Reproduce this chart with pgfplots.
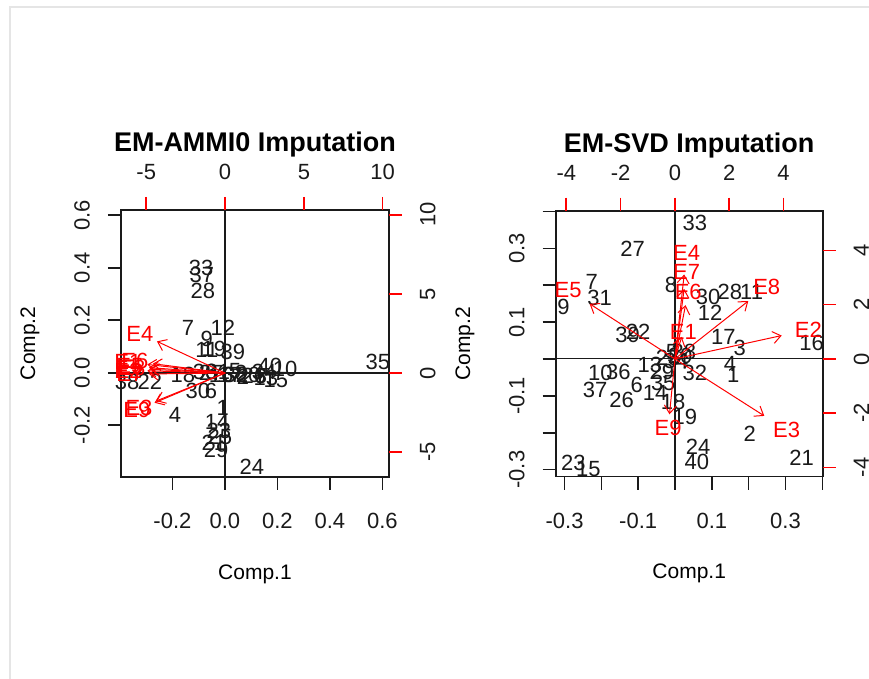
\documentclass[border=0pt]{standalone}
\usepackage{fontspec}
\setmainfont{Liberation Sans}
\usepackage{pgfplots}
\usepackage{pgfplotstable}
\pgfplotsset{compat=1.18}
\usetikzlibrary{arrows.meta}

% observations, EM-AMMI0 (Comp.1, Comp.2)
\pgfplotstableread{
lab x y
1 -0.008 -0.134
2 0.069 -0.016
3 0.137 -0.013
4 -0.190 -0.161
5 0.038 0.006
6 -0.053 -0.070
7 -0.141 0.170
8 0.061 -0.001
9 -0.069 0.128
10 0.229 0.014
11 -0.069 0.086
12 -0.008 0.170
13 0.156 -0.020
14 -0.030 -0.188
15 0.194 -0.028
16 -0.015 -0.009
17 0.019 -0.009
18 -0.160 -0.009
19 -0.042 0.090
20 0.088 -0.009
21 -0.042 -0.268
22 -0.286 -0.035
23 -0.023 -0.222
24 0.103 -0.359
25 -0.019 -0.245
26 0.110 -0.013
27 -0.053 -0.001
28 -0.084 0.311
29 -0.034 -0.294
30 -0.103 -0.070
31 -0.027 0.003
32 0.042 -0.009
33 -0.091 0.399
34 0.149 0.003
35 0.583 0.041
36 -0.076 0.003
37 -0.088 0.372
38 -0.373 -0.035
39 0.030 0.079
40 0.171 0.026
}\obsA

% variables, EM-AMMI0: label position and arrow tip
\pgfplotstableread{
name lx ly x0 y0 ax ay
E1 -6.16 0.67 0 0 -4.93 0.54
E2 -6.16 0.17 0 0 -4.93 0.14
E3 -5.46 -2.21 0 0 -4.37 -1.77
E4 -5.40 2.50 0 0 -4.32 2.00
E5 -6.04 0.42 0 0 -4.83 0.34
E6 -5.72 0.74 0 0 -4.58 0.59
E7 -6.04 -0.08 0 0 -4.83 -0.06
E8 -5.91 0.30 0 0 -4.73 0.24
E9 -5.59 -2.35 0 0 -4.47 -1.88
}\varA

% observations, EM-SVD
\pgfplotstableread{
lab x y
1 0.158 -0.043
2 0.203 -0.202
3 0.176 0.029
4 0.149 -0.012
5 -0.008 0.019
6 -0.104 -0.071
7 -0.226 0.210
8 -0.011 0.201
9 -0.303 0.142
10 -0.203 -0.039
11 0.208 0.183
12 0.095 0.124
13 -0.068 -0.016
14 -0.054 -0.093
15 -0.235 -0.297
16 0.371 0.043
17 0.131 0.060
18 -0.005 -0.116
19 0.027 -0.157
20 0.014 0.008
21 0.344 -0.269
22 -0.100 0.074
23 -0.276 -0.283
24 0.063 -0.238
25 -0.019 0.003
26 -0.145 -0.111
27 -0.115 0.300
28 0.149 0.183
29 -0.036 -0.034
30 0.090 0.169
31 -0.205 0.165
32 0.054 -0.039
33 0.054 0.368
34 0.003 -0.005
35 -0.032 -0.066
36 -0.154 -0.034
37 -0.217 -0.084
38 0.024 0.019
39 -0.129 0.065
40 0.059 -0.279
}\obsB

% variables, EM-SVD
\pgfplotstableread{
name lx ly x0 y0 ax ay
E1 0.31 1.01 0 0 0.25 0.81
E2 4.91 1.07 0 0 3.93 0.86
E3 4.11 -2.62 0 0 3.29 -2.10
E4 0.43 3.89 0 0 0.34 3.11
E5 -3.93 2.54 0 0 -3.14 2.03
E6 0.49 2.48 0 0 0.39 1.98
E7 0.43 3.22 0 0 0.34 2.58
E8 3.38 2.66 0 0 2.70 2.13
E9 -0.25 -2.55 0 0 -0.20 -2.04
}\varB

\definecolor{rred}{HTML}{FF0000}
\definecolor{ink}{HTML}{1A1A1A}

\pgfplotsset{
  bip/.style={
    scale only axis, anchor=south west, clip=false,
    tick align=outside, major tick length=6.5pt,
    minor tick num=0,
    every tick label/.append style={font=\fontsize{11}{12}\selectfont, text=ink},
    axis line style={line width=0.8pt, ink},
    every tick/.append style={line width=0.8pt},
  },
  prim/.style={
    bip, xtick pos=left, ytick pos=left,
    tick style={ink},
    xticklabel shift=8pt, yticklabel shift=5.5pt,
    yticklabel style={rotate=90, anchor=south},
    title style={font=\bfseries\fontsize{13.5}{15}\selectfont, at={(0.5,1)}, anchor=center, yshift=26.5pt},
    xlabel style={font=\fontsize{10.5}{12}\selectfont, at={(axis description cs:0.5,-0.365)}, anchor=center},
    ylabel style={font=\fontsize{10.5}{12}\selectfont, at={(axis description cs:-0.34,0.5)}, anchor=center, rotate=0},
  },
  sec/.style={
    bip, axis line style={draw=none},
    xtick pos=right, ytick pos=right,
    tick style={rred},
    xticklabel shift=5pt, yticklabel shift=5.5pt,
    yticklabel style={rotate=90, anchor=north},
  },
  obs/.style={only marks, mark=none, nodes near coords, point meta=explicit symbolic,
    nodes near coords style={anchor=center, inner sep=0pt, text=ink, font=\fontsize{11}{12}\selectfont}},
  vlab/.style={only marks, mark=none, nodes near coords, point meta=explicit symbolic,
    nodes near coords style={anchor=center, inner sep=0pt, text=rred, font=\fontsize{11}{12}\selectfont}},
  varrow/.style={rred, line width=0.5pt, -{Straight Barb[length=4pt, width=6pt]},
    quiver={u=\thisrow{ax}, v=\thisrow{ay}}},
}

\begin{document}
\begin{tikzpicture}
\useasboundingbox (0,0) rectangle (434.5pt,-339.5pt);
\fill[white] (0,0) rectangle (434.5pt,-339.5pt);
\draw[gray!20, line width=0.6pt] (5pt,-339.5pt) -- (5pt,-3.5pt) -- (434.5pt,-3.5pt);

% ---------- EM-AMMI0 ----------
\begin{axis}[prim, at={(60.5pt,-238.35pt)}, width=134pt, height=133.35pt,
  xmin=-0.396, xmax=0.625, ymin=-0.396, ymax=0.62,
  xtick={-0.2,0,0.2,0.4,0.6}, xticklabels={-0.2,0.0,0.2,0.4,0.6},
  ytick={-0.2,0,0.2,0.4,0.6}, yticklabels={-0.2,0.0,0.2,0.4,0.6},
  title={EM-AMMI0 Imputation}, xlabel={Comp.1}, ylabel={Comp.2}]
\addplot[obs] table[x=x, y=y, meta=lab] {\obsA};
\end{axis}
\begin{axis}[sec, at={(60.5pt,-238.35pt)}, width=134pt, height=133.35pt,
  xmin=-6.6, xmax=10.4, ymin=-6.55, ymax=10.3,
  xtick={-5,0,5,10}, xticklabels={-5,0,5,10},
  ytick={-5,0,5,10}, yticklabels={-5,0,5,10}]
\addplot[ink, line width=0.6pt] coordinates {(0,-6.55) (0,10.3)};
\addplot[ink, line width=0.6pt] coordinates {(-6.6,0) (10.4,0)};
\addplot[varrow] table[x=x0, y=y0] {\varA};
\addplot[vlab] table[x=lx, y=ly, meta=name] {\varA};
\end{axis}

% ---------- EM-SVD ----------
\begin{axis}[prim, at={(277.85pt,-238.35pt)}, width=133.5pt, height=133pt,
  xmin=-0.324, xmax=0.401, ymin=-0.319, ymax=0.402,
  xtick={-0.3,-0.2,-0.1,0,0.1,0.2,0.3,0.4}, xticklabels={-0.3,,-0.1,,0.1,,0.3,},
  ytick={-0.3,-0.2,-0.1,0,0.1,0.2,0.3,0.4}, yticklabels={-0.3,,-0.1,,0.1,,0.3,},
  title={EM-SVD Imputation}, xlabel={Comp.1}, ylabel={Comp.2}]
\addplot[obs] table[x=x, y=y, meta=lab] {\obsB};
\end{axis}
\begin{axis}[sec, at={(277.85pt,-238.35pt)}, width=133.5pt, height=133pt,
  xmin=-4.39, xmax=5.44, ymin=-4.34, ymax=5.46,
  xtick={-4,-2,0,2,4}, xticklabels={-4,-2,0,2,4},
  ytick={-4,-2,0,2,4}, yticklabels={-4,-2,0,2,4}]
\addplot[ink, line width=0.6pt] coordinates {(0,-4.34) (0,5.46)};
\addplot[ink, line width=0.6pt] coordinates {(-4.39,0) (5.44,0)};
\addplot[varrow] table[x=x0, y=y0] {\varB};
\addplot[vlab] table[x=lx, y=ly, meta=name] {\varB};
\end{axis}
\end{tikzpicture}
\end{document}
